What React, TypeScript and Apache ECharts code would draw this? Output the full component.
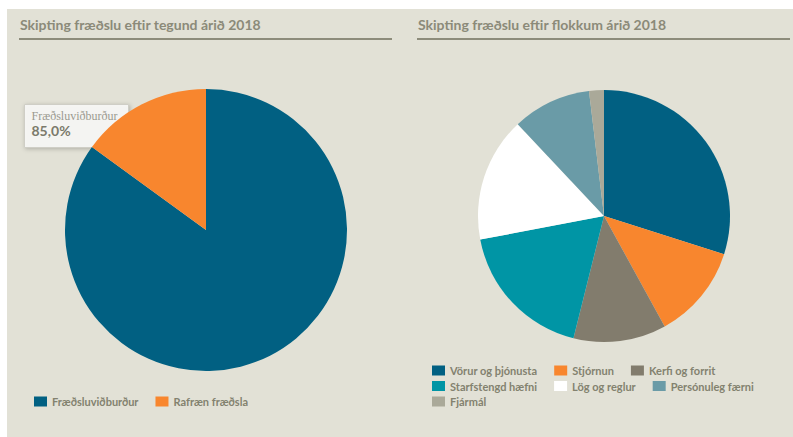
import React, { useEffect, useRef } from "react";
import * as echarts from "echarts";

const titles = ["Skipting fræðslu eftir tegund árið 2018", "Skipting fræðslu eftir flokkum árið 2018"];

const typeNames = ["Fræðsluviðburður", "Rafræn fræðsla"];
const typeValues = [85, 15];
const typeColors = ["#016082", "#f8862e"];

const catNames = [
  "Vörur og þjónusta",
  "Stjórnun",
  "Kerfi og forrit",
  "Starfstengd hæfni",
  "Lög og reglur",
  "Persónuleg færni",
  "Fjármál",
];
const catValues = [29.9, 12.1, 11.9, 18.1, 16.0, 10.1, 1.9];
const catColors = ["#016082", "#f8862e", "#827c6d", "#0095a5", "#ffffff", "#6a9ba7", "#aaa999"];

const legendRows = [catNames.slice(0, 3), catNames.slice(3, 6), catNames.slice(6)];

const tipName = typeNames[0];
const tipValue = typeValues[0];

const BG = "#e2e1d6";
const TXT = "#83826f";
const FONT = "Lato, 'Open Sans', sans-serif";

export default function App() {
  const ref = useRef<HTMLDivElement>(null);
  useEffect(() => {
    if (!ref.current) return;
    const chart = echarts.init(ref.current, undefined, { renderer: "svg" });
    const legendBase = {
      orient: "horizontal" as const,
      icon: "rect",
      itemWidth: 13,
      itemHeight: 10,
      itemGap: 17,
      textStyle: { color: TXT, fontFamily: FONT, fontWeight: "bold" as const, fontSize: 11 },
      selectedMode: false,
      padding: 0,
    };
    const total = typeValues.reduce((a, b) => a + b, 0);
    const pct = ((tipValue / total) * 100).toFixed(1).replace(".", ",") + "%";
    chart.setOption({
      animation: false,
      backgroundColor: "#ffffff",
      graphic: [
        { type: "rect", left: 7, top: 9, shape: { width: 786, height: 428 }, style: { fill: BG }, z: -10 },
        {
          type: "text", left: 20, top: 17,
          style: { text: titles[0], fill: "#8b8a79", font: `bold 14px ${FONT}` },
        },
        {
          type: "text", left: 418, top: 17,
          style: { text: titles[1], fill: "#8b8a79", font: `bold 14px ${FONT}` },
        },
        { type: "rect", left: 19, top: 38, shape: { width: 373, height: 2 }, style: { fill: "#8d8c7b" } },
        { type: "rect", left: 417, top: 38, shape: { width: 373, height: 2 }, style: { fill: "#8d8c7b" } },
        {
          type: "group", left: 24, top: 104, z: 100,
          children: [
            {
              type: "rect", shape: { x: 0, y: 0, width: 104, height: 43 },
              style: {
                fill: "rgba(250,250,249,0.85)", stroke: "#cfcec6", lineWidth: 1,
                shadowBlur: 4, shadowColor: "rgba(0,0,0,0.25)", shadowOffsetX: 1, shadowOffsetY: 1,
              },
            },
            {
              type: "text", x: 7, y: 5,
              style: { text: tipName, fill: "#9b9a90", font: "12px 'Liberation Serif', serif" },
            },
            {
              type: "text", x: 7, y: 19,
              style: { text: pct, fill: "#7b7a6b", font: `bold 14px ${FONT}` },
            },
          ],
        },
      ],
      legend: [
        { ...legendBase, left: 34, top: 396, data: typeNames },
        ...legendRows.map((row, i) => ({ ...legendBase, left: 432, top: 365 + i * 15.5, data: row })),
      ],
      series: [
        {
          type: "pie",
          center: [206, 230],
          radius: [0, 141],
          startAngle: 90,
          clockwise: true,
          label: { show: false },
          labelLine: { show: false },
          silent: true,
          itemStyle: { borderWidth: 0 },
          data: typeNames.map((n, i) => ({ name: n, value: typeValues[i], itemStyle: { color: typeColors[i] } })),
        },
        {
          type: "pie",
          center: [604, 216],
          radius: [0, 126],
          startAngle: 90,
          clockwise: true,
          label: { show: false },
          labelLine: { show: false },
          silent: true,
          itemStyle: { borderWidth: 0 },
          data: catNames.map((n, i) => ({ name: n, value: catValues[i], itemStyle: { color: catColors[i] } })),
        },
      ],
    });
    return () => chart.dispose();
  }, []);
  return <div ref={ref} style={{ position: "fixed", left: 0, top: 0, width: 793, height: 437 }} />;
}
